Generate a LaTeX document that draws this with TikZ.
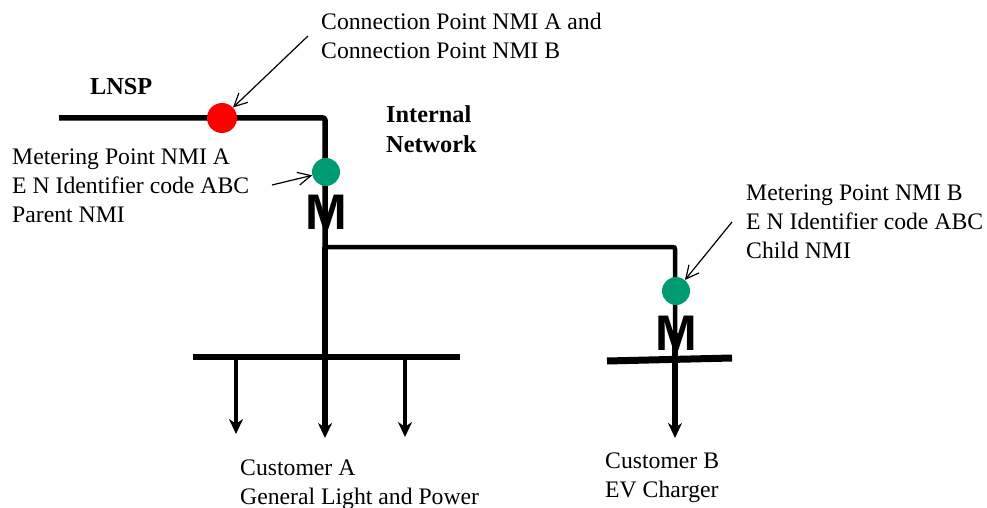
\documentclass[tikz,border=0pt]{standalone}
\usepackage{fontspec}
\setmainfont{Liberation Serif}
\newfontfamily\meterfont{Liberation Sans}
\usetikzlibrary{arrows.meta}
\tikzset{
	label text/.style={anchor=west,align=left,inner sep=0pt,font=\fontsize{23.7}{29}\selectfont},
	head text/.style={label text,font=\fontsize{24.3}{30}\selectfont\bfseries},
	meter/.style={anchor=center,inner sep=0pt,font=\fontsize{50}{50}\meterfont\bfseries},
	dot/.style={circle,inner sep=0pt,minimum size=#1},
	feed/.style={line width=5.5pt,line join=round,rounded corners=2pt},
	load/.style={line width=5.5pt,-{Stealth[length=15pt,width=14pt]}},
	pointer/.style={line width=1.2pt,-{Straight Barb[length=13pt,width=13pt]}}
}
\definecolor{metergreen}{RGB}{0,155,115}
\begin{document}
\begin{tikzpicture}[x=1pt,y=-1pt]
	\useasboundingbox (0,0) rectangle (987,508);
	% text
	\node[head text](lnsp) at (90,87){LNSP};
	\node[head text](internal) at (386,129){Internal\\Network};
	\node[label text](connpoint) at (321,36){Connection Point NMI A and\\Connection Point NMI B};
	\node[label text](meterA) at (12,186){Metering Point NMI A\\E N Identifier code ABC\\Parent NMI};
	\node[label text](meterB) at (746,222){Metering Point NMI B\\E N Identifier code ABC\\Child NMI};
	\node[label text](custA) at (240,485){Customer A\\General Light and Power};
	\node[label text](custB) at (605,478){Customer B\\EV Charger};
	\node[meter](mA) at (326,212){M};
	\node[meter](mB) at (676,333){M};
	% free ends
	\coordinate(lnspstart) at (59,118);
	\coordinate(cornerA) at (325,118);
	\coordinate(tee) at (325,247);
	\coordinate(cornerB) at (675,247);
	\coordinate(stemB) at (675,333);
	\coordinate(busAl) at (193,357);
	\coordinate(busAr) at (460,357);
	\coordinate(busBl) at (607,361);
	\coordinate(busBr) at (732,358);
	\coordinate(endA) at (325,438);
	\coordinate(loadAl) at (236,357);
	\coordinate(endAl) at (236,434);
	\coordinate(loadAr) at (405,357);
	\coordinate(endAr) at (405,437);
	\coordinate(endB) at (675,438);
	\coordinate(tailconn) at (308,36);
	\coordinate(tailA) at (272,185);
	\coordinate(tailB) at (732,222);
	% lines
	\draw[feed] (lnspstart) -- (cornerA) -- (tee);
	\draw[load] (tee) -- (endA);
	\draw[line width=4.5pt,rounded corners=2pt] (tee) -- (cornerB) -- (stemB);
	\draw[load] (stemB) -- (endB);
	\draw[line width=6pt] (busAl) -- (busAr);
	\draw[line width=7pt] (busBl) -- (busBr);
	\draw[line width=4.5pt,-{Stealth[length=15pt,width=14pt]}] (loadAl) -- (endAl);
	\draw[line width=4.5pt,-{Stealth[length=15pt,width=14pt]}] (loadAr) -- (endAr);
	% points
	\node[dot=30pt,fill=red](connA) at (222,118){};
	\node[dot=28pt,fill=metergreen](greenA) at (326,172){};
	\node[dot=28pt,fill=metergreen](greenB) at (676,291){};
	\draw[pointer] (tailconn) -- (connA);
	\draw[pointer] (tailA) -- (greenA);
	\draw[pointer] (tailB) -- (greenB);
\end{tikzpicture}
\end{document}
